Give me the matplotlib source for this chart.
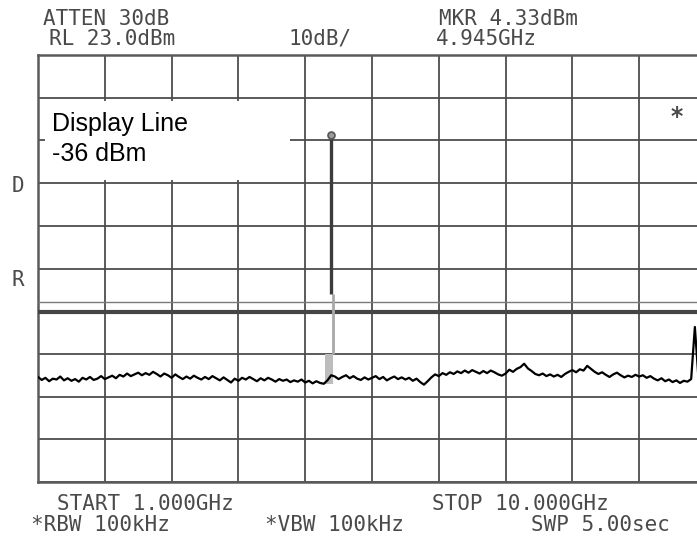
import numpy as np
import matplotlib
matplotlib.use("Agg")
import matplotlib.pyplot as plt
from matplotlib.patches import Rectangle
from matplotlib.transforms import ScaledTranslation

# Sweep settings
START_GHZ = 1.0
STOP_GHZ = 10.0
REF_LEVEL_DBM = 23.0
DB_PER_DIV = 10.0
N_DIV = 10
DISPLAY_LINE_DBM = -36.0

# Marker (carrier peak)
PEAK_GHZ = 4.945
PEAK_DBM = 4.33
PEAK_DARK_BOTTOM_DBM = -33.0
SKIRT_GHZ = [4.87, 4.975]
SKIRT_TOP_DBM = -47.0

# Trace levels (dBm), one point every 0.05 GHz from 1.00 to 10.00 GHz
trace_dbm = [
    -52.4, -53.1, -52.6, -53.4, -52.8, -53.0, -52.3, -53.2, -52.7, -53.3,
    -52.9, -53.5, -52.6, -53.0, -52.4, -53.1, -52.8, -52.2, -52.9, -52.5,
    -52.1, -52.7, -51.9, -52.3, -51.6, -52.2, -51.8, -51.4, -52.0, -51.5,
    -51.9, -51.2, -51.7, -52.3, -51.6, -52.0, -52.6, -51.8, -52.4, -52.9,
    -52.3, -52.8, -52.1, -52.6, -53.0, -52.4, -52.9, -52.2, -52.7, -53.2,
    -52.5, -53.1, -53.7, -52.8, -53.3, -52.6, -53.0, -52.4, -52.9, -53.4,
    -52.7, -53.2, -52.6, -53.0, -53.5, -52.9, -53.3, -53.0, -53.6, -53.2,
    -53.5, -53.0, -53.7, -53.3, -53.9, -53.4, -53.8, -54.0, -53.2, -52.0,
    -52.3, -52.9, -52.4, -52.0, -52.7, -52.2, -52.8, -53.1, -52.5, -53.0,
    -52.6, -52.2, -52.9, -52.4, -53.2, -52.7, -52.3, -52.9, -52.5, -53.0,
    -52.6, -53.3, -52.8, -53.6, -54.2, -53.4, -52.5, -51.8, -52.2, -51.5,
    -51.9, -51.3, -51.7, -51.1, -51.5, -50.9, -51.4, -50.8, -51.2, -51.6,
    -51.0, -51.5, -50.9, -51.3, -51.8, -52.1, -51.6, -50.7, -51.2, -50.5,
    -50.1, -49.3, -50.4, -51.0, -51.7, -52.0, -51.6, -52.2, -51.8, -52.3,
    -51.9, -52.4, -51.7, -51.2, -50.8, -51.3, -50.6, -50.9, -49.8, -50.5,
    -51.2, -51.7, -51.3, -51.9, -52.4, -51.8, -51.4, -52.0, -52.5, -52.1,
    -52.4, -51.9, -52.3, -52.0, -52.6, -52.2, -52.8, -53.2, -52.7, -53.4,
    -53.0, -53.6, -53.2, -53.8, -53.3, -53.5, -52.9, -40.7, -53.1, -53.4,
    -53.0,
]
trace_ghz = np.linspace(START_GHZ, STOP_GHZ, len(trace_dbm))

# Annotation strings of the analyzer screen
header_left = ["ATTEN 30dB", "RL 23.0dBm"]
header_mid = "10dB/"
header_right = ["MKR 4.33dBm", "4.945GHz"]
footer_top = ["START 1.000GHz", "STOP 10.000GHz"]
footer_bottom = ["*RBW 100kHz", "*VBW 100kHz", "SWP 5.00sec"]
box_label = "Display Line\n-36 dBm"

W, H = 697, 539
fig = plt.figure(figsize=(W / 100, H / 100), dpi=100)
fig.patch.set_facecolor("white")

# Graticule area (the right border runs just past the screen edge)
ax = fig.add_axes([38 / W, 1 - 482 / H, 668 / W, 427 / H])
bottom_dbm = REF_LEVEL_DBM - N_DIV * DB_PER_DIV
ax.set_xlim(START_GHZ, STOP_GHZ)
ax.set_ylim(bottom_dbm, REF_LEVEL_DBM)
ax.set_xticks(np.linspace(START_GHZ, STOP_GHZ, N_DIV + 1))
ax.set_yticks(np.linspace(bottom_dbm, REF_LEVEL_DBM, N_DIV + 1))
ax.tick_params(length=0, labelbottom=False, labelleft=False)
ax.grid(True, color="#4d4d4d", lw=1.3)
for s in ax.spines.values():
    s.set_color("#5a5a5a")
    s.set_linewidth(1.8)

# Display line, drawn as a double stroke: thin light edge above, heavy below
ytrans = ax.get_yaxis_transform()
above = ytrans + ScaledTranslation(0, 0.045, fig.dpi_scale_trans)
below = ytrans + ScaledTranslation(0, -0.05, fig.dpi_scale_trans)
ax.plot([0, 1], [DISPLAY_LINE_DBM] * 2, transform=above, color="#7a7a7a",
        lw=1.0, zorder=3)
ax.plot([0, 1], [DISPLAY_LINE_DBM] * 2, transform=below, color="#444444",
        lw=3.0, zorder=3)

# Noise trace
ax.plot(trace_ghz, trace_dbm, color="black", lw=1.6, zorder=4)

# Carrier: light skirt, faint lower stroke, dark upper stroke, marker circle
ax.fill_between(SKIRT_GHZ, [min(trace_dbm[77:82])] * 2, [SKIRT_TOP_DBM] * 2,
                color="#bdbdbd", lw=0, zorder=3.5)
ax.vlines(PEAK_GHZ + 0.03, SKIRT_TOP_DBM, PEAK_DARK_BOTTOM_DBM,
          color="#a8a8a8", lw=2.0, zorder=3.6)
ax.vlines(PEAK_GHZ, PEAK_DARK_BOTTOM_DBM, PEAK_DBM,
          color="#3c3c3c", lw=2.4, zorder=4)
ax.plot([PEAK_GHZ], [PEAK_DBM], "o", ms=5, mfc="#9a9a9a", mec="#555555",
        mew=1.2, zorder=5)

# White label box over the graticule
ax.add_patch(Rectangle((0.0105, 0.707), 0.367, 0.185, transform=ax.transAxes,
                       facecolor="white", edgecolor="none", zorder=2.6))
ax.text(0.021, 0.804, box_label, transform=ax.transAxes, ha="left",
        va="center", fontsize=18, family="Liberation Sans", color="black",
        linespacing=1.3, zorder=6)

# Screen annotations
mono = dict(family="DejaVu Sans Mono", fontsize=15, color="#4a4a4a",
            va="center", ha="center")
fig.text(106 / W, 1 - 19 / H, header_left[0], **mono)
fig.text(112 / W, 1 - 39 / H, header_left[1], **mono)
fig.text(320 / W, 1 - 39 / H, header_mid, **mono)
fig.text(508 / W, 1 - 19 / H, header_right[0], **mono)
fig.text(486 / W, 1 - 39 / H, header_right[1], **mono)
fig.text(145 / W, 1 - 504 / H, footer_top[0], **mono)
fig.text(520 / W, 1 - 504 / H, footer_top[1], **mono)
fig.text(100 / W, 1 - 525 / H, footer_bottom[0], **mono)
fig.text(334 / W, 1 - 525 / H, footer_bottom[1], **mono)
fig.text(600 / W, 1 - 525 / H, footer_bottom[2], **mono)
fig.text(18 / W, 1 - 186 / H, "D", **mono)
fig.text(18 / W, 1 - 280 / H, "R", **mono)
fig.text(677 / W, 1 - 117 / H, "*", family="DejaVu Sans Mono", fontsize=17,
         fontweight="bold", color="#4a4a4a", va="center", ha="center")

fig.savefig("out.png", dpi=100, facecolor="white")
